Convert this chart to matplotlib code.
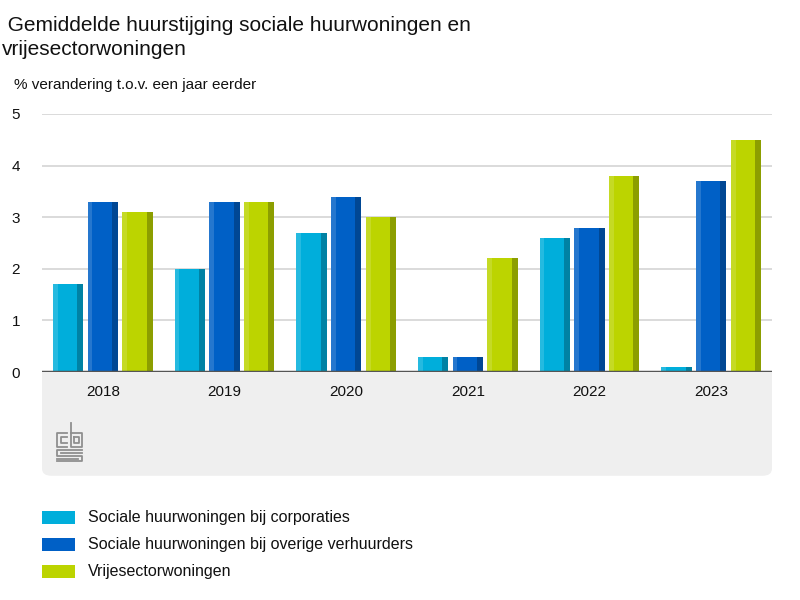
import numpy as np
import matplotlib.pyplot as plt
from matplotlib.patches import FancyBboxPatch
from matplotlib.lines import Line2D

# data
jaren = ["2018", "2019", "2020", "2021", "2022", "2023"]
corporaties = [1.7, 2.0, 2.7, 0.3, 2.6, 0.1]
overige = [3.3, 3.3, 3.4, 0.3, 2.8, 3.7]
vrije_sector = [3.1, 3.3, 3.0, 2.2, 3.8, 4.5]
reeksen = ["Sociale huurwoningen bij corporaties",
           "Sociale huurwoningen bij overige verhuurders",
           "Vrijesectorwoningen"]
kleuren = ["#00aedb", "#0060c6", "#bcd400"]

plt.rcParams["font.family"] = ["Liberation Sans", "DejaVu Sans"]

fig = plt.figure(figsize=(8, 6), dpi=100)
ax = fig.add_axes([0.0525, 0.38, 0.9125, 0.43])

x = np.arange(len(jaren))
w = 0.25
step = 0.285
for i, (vals, kl) in enumerate(zip([corporaties, overige, vrije_sector], kleuren)):
    pos = x + (i - 1) * step
    ax.bar(pos, vals, width=w, color=kl, zorder=3, label=reeksen[i])
    # donkere rand rechts / lichte rand links voor het 3D-effect
    ax.bar(pos + w * 0.4, vals, width=w * 0.2, color="black", alpha=0.25, zorder=4)
    ax.bar(pos - w * 0.42, vals, width=w * 0.16, color="white", alpha=0.15, zorder=4)

ax.set_xlim(-0.5, 5.5)
ax.set_ylim(0, 5)
ax.set_yticks(range(6))
ax.set_xticks(x)
ax.set_xticklabels(jaren)
ax.grid(axis="y", color="#d4d4d4", linewidth=1.2, zorder=0)
ax.axhline(0, color="#555555", linewidth=2.5, zorder=5)
for s in ax.spines.values():
    s.set_visible(False)
ax.tick_params(axis="both", length=0, labelsize=11, colors="#111111")
ax.tick_params(axis="x", pad=9)
ax.tick_params(axis="y", pad=22)
for lbl in ax.get_yticklabels():
    lbl.set_horizontalalignment("left")

# grijze band onder de as
band = FancyBboxPatch((0.0525, 0.207), 0.9125, 0.19,
                      boxstyle="round,pad=0,rounding_size=0.012",
                      transform=fig.transFigure, facecolor="#efefef",
                      edgecolor="none", zorder=-1)
fig.patches.append(band)

# cbs-logo (benadering, in pixels)
logo = [
    [(67, 433), (57, 433), (57, 447), (67, 447)],
    [(67, 437), (61, 437), (61, 443), (67, 443)],
    [(71, 423), (71, 447), (82, 447), (82, 433), (71, 433)],
    [(74, 437), (79, 437), (79, 443), (74, 443), (74, 437)],
    [(82, 450), (57, 450), (57, 456), (82, 456), (82, 461), (57, 461)],
    [(82, 453), (61, 453)],
    [(78, 459), (57, 459)],
]
for pts in logo:
    xs = [p[0] / 800 for p in pts]
    ys = [1 - p[1] / 600 for p in pts]
    fig.add_artist(Line2D(xs, ys, transform=fig.transFigure, color="#8f8f8f", linewidth=1.3))

fig.text(0.003, 0.973, " Gemiddelde huurstijging sociale huurwoningen en\nvrijesectorwoningen",
         fontsize=15, va="top", ha="left", color="#111111", linespacing=1.33)
fig.text(0.018, 0.858, "% verandering t.o.v. een jaar eerder", fontsize=11, va="center",
         color="#111111")

# legenda
for i, (naam, kl) in enumerate(zip(reeksen, kleuren)):
    yy = 0.137 - i * 0.0445
    fig.add_artist(plt.Rectangle((0.052, yy - 0.011), 0.042, 0.022, transform=fig.transFigure,
                                 facecolor=kl, edgecolor="none"))
    fig.text(0.11, yy, naam, fontsize=11.5, va="center", color="#111111")

fig.savefig("out.png", dpi=100)
